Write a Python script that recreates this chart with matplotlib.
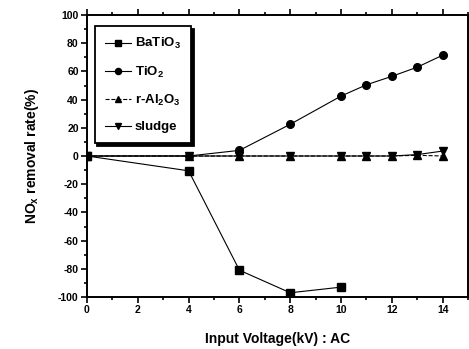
import matplotlib.pyplot as plt
from matplotlib.ticker import MultipleLocator

plt.rcParams['font.family'] = ['Liberation Sans', 'DejaVu Sans']
plt.rcParams['font.weight'] = 'bold'
plt.rcParams['axes.unicode_minus'] = False
plt.rcParams['mathtext.fontset'] = 'custom'
plt.rcParams['mathtext.rm'] = 'Liberation Sans:bold'
plt.rcParams['mathtext.it'] = 'Liberation Sans:bold'
plt.rcParams['mathtext.default'] = 'rm'

# data
x_ba = [0, 4, 6, 8, 10]
y_ba = [0, -10.5, -81, -97, -93]
x_all = [0, 4, 6, 8, 10, 11, 12, 13, 14]
y_ti = [0, 0, 4, 22.5, 42.5, 50.5, 56.5, 63, 71.5]
y_al = [0, 0, 0, 0, 0, 0, 0, 0.5, 0]
y_sl = [0, 0, 0, 0, 0, 0, 0, 1, 3.5]

fig = plt.figure(figsize=(4.69, 3.49), dpi=100)
ax = fig.add_axes([0.1855, 0.149, 0.8125, 0.808])

ax.plot(x_ba, y_ba, '-', color='k', lw=0.8, marker='s', ms=5.5, label='BaTiO$_3$')
ax.plot(x_all, y_ti, '-', color='k', lw=0.8, marker='o', ms=5.5, label='TiO$_2$')
ax.plot(x_all, y_al, '--', color='k', lw=0.8, marker='^', ms=5.5, label='r-Al$_2$O$_3$')
ax.plot(x_all, y_sl, '-', color='k', lw=0.8, marker='v', ms=5.5, label='sludge')

ax.set_xlim(0, 15)
ax.set_ylim(-100, 100)
ax.set_xticks([0, 2, 4, 6, 8, 10, 12, 14])
ax.xaxis.set_minor_locator(MultipleLocator(1))
ax.yaxis.set_major_locator(MultipleLocator(20))
ax.yaxis.set_minor_locator(MultipleLocator(10))

ax.tick_params(which='both', direction='out', labelsize=7.5, width=1.2, pad=2)
ax.tick_params(which='major', length=4)
ax.tick_params(which='minor', length=2.5)
ax.tick_params(which='both', top=True, right=True)
for s in ax.spines.values():
    s.set_linewidth(1.4)

ax.set_xlabel('Input Voltage(kV) : AC', fontsize=10, fontweight='bold', labelpad=12)
ax.set_ylabel('NO$_x$ removal rate(%)', fontsize=10, fontweight='bold', labelpad=12)

leg = ax.legend(loc='upper left', bbox_to_anchor=(0.02, 0.96), fontsize=9.5, frameon=True,
                fancybox=False, shadow={'color': 'black', 'alpha': 1.0}, edgecolor='k',
                handlelength=2.0, labelspacing=1.0, borderpad=0.75, handletextpad=0.3,
                borderaxespad=0, markerscale=0.8)
leg.get_frame().set_linewidth(1.3)

fig.savefig('out.png', dpi=100)
